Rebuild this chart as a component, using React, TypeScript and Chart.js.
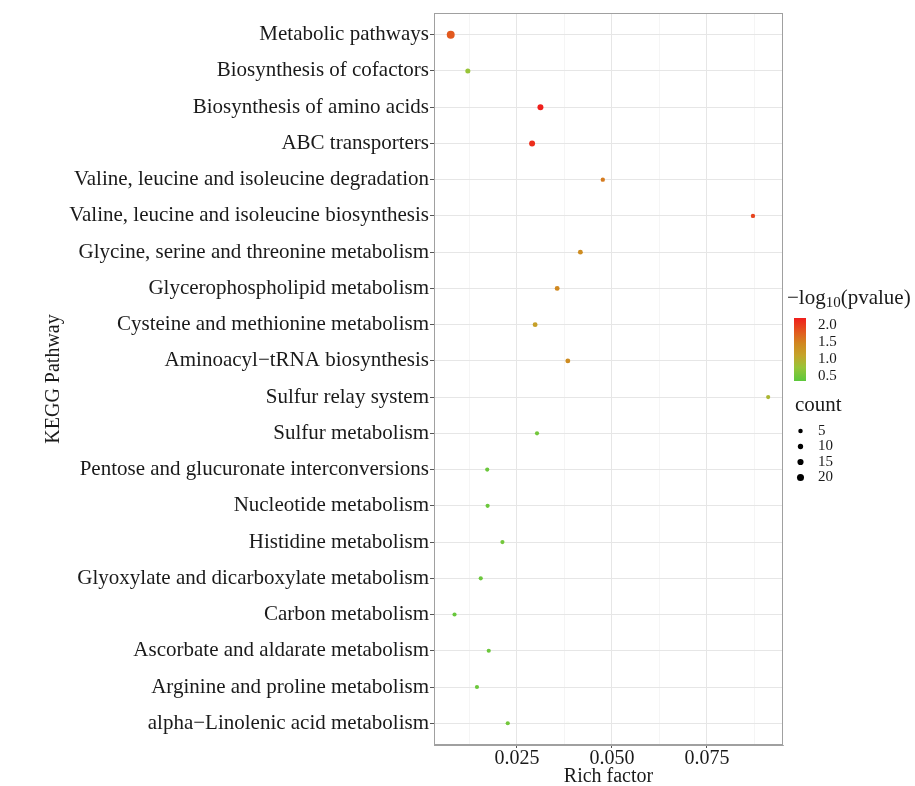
import { useEffect, useRef } from 'react';
import { Chart, registerables } from 'chart.js';

Chart.register(...registerables);

const pathways = [
  'Metabolic pathways',
  'Biosynthesis of cofactors',
  'Biosynthesis of amino acids',
  'ABC transporters',
  'Valine, leucine and isoleucine degradation',
  'Valine, leucine and isoleucine biosynthesis',
  'Glycine, serine and threonine metabolism',
  'Glycerophospholipid metabolism',
  'Cysteine and methionine metabolism',
  'Aminoacyl\u2212tRNA biosynthesis',
  'Sulfur relay system',
  'Sulfur metabolism',
  'Pentose and glucuronate interconversions',
  'Nucleotide metabolism',
  'Histidine metabolism',
  'Glyoxylate and dicarboxylate metabolism',
  'Carbon metabolism',
  'Ascorbate and aldarate metabolism',
  'Arginine and proline metabolism',
  'alpha\u2212Linolenic acid metabolism',
];

const richFactor = [
  0.0076, 0.0121, 0.0312, 0.029, 0.0476, 0.0871, 0.0417, 0.0356, 0.0298, 0.0384,
  0.0911, 0.0303, 0.0172, 0.0173, 0.0212, 0.0155, 0.0086, 0.0176, 0.0145, 0.0226,
];

const negLog10P = [
  1.8, 0.75, 2.2, 2.1, 1.55, 1.95, 1.4, 1.45, 1.15, 1.4,
  0.9, 0.5, 0.45, 0.45, 0.5, 0.45, 0.42, 0.45, 0.45, 0.5,
];

const geneCount = [
  23, 7, 12, 12, 3, 3, 6, 6, 6, 6,
  2, 2, 2, 2, 2, 2, 2, 2, 2, 2,
];

const xTicks = [0.025, 0.05, 0.075];
const colorBreaks = [2.0, 1.5, 1.0, 0.5];
const sizeBreaks = [5, 10, 15, 20];

// style constants
const FONT = "'Liberation Serif', 'Times New Roman', serif";
const colorDomain = [0.35, 2.21];
const stopVals = [0.35, 0.75, 1.1, 1.45, 1.75, 2.21];
const stopHex = ['#5cc83c', '#98c438', '#c4a42a', '#d08820', '#e0601e', '#f01e1c'];

function hexToRgb(h: string) {
  const n = parseInt(h.slice(1), 16);
  return [(n >> 16) & 255, (n >> 8) & 255, n & 255];
}
function colorFor(v: number) {
  const c = Math.max(stopVals[0], Math.min(stopVals[stopVals.length - 1], v));
  let i = 0;
  while (i < stopVals.length - 2 && c > stopVals[i + 1]) i++;
  const t = (c - stopVals[i]) / (stopVals[i + 1] - stopVals[i]);
  const a = hexToRgb(stopHex[i]);
  const b = hexToRgb(stopHex[i + 1]);
  const m = a.map((x, k) => Math.round(x + (b[k] - x) * t));
  return `rgb(${m[0]},${m[1]},${m[2]})`;
}
function radiusFor(count: number) {
  return 1.9 + 0.09 * count;
}

const decorPlugin = {
  id: 'decor',
  afterDraw(chart: any) {
    const { ctx, chartArea } = chart;
    const { left, right, top, bottom } = chartArea;
    ctx.save();
    // panel border
    ctx.strokeStyle = '#a0a0a0';
    ctx.lineWidth = 1;
    ctx.strokeRect(left + 0.5, top + 0.5, right - left - 1, bottom - top - 1);

    // color legend title
    const lx = right + 4;
    ctx.fillStyle = '#1a1a1a';
    ctx.textBaseline = 'alphabetic';
    ctx.textAlign = 'left';
    ctx.font = `21px ${FONT}`;
    let x = lx;
    const tBase = 304;
    ctx.fillText('\u2212log', x, tBase);
    x += ctx.measureText('\u2212log').width;
    ctx.font = `15px ${FONT}`;
    ctx.fillText('10', x, tBase + 3);
    x += ctx.measureText('10').width;
    ctx.font = `21px ${FONT}`;
    ctx.fillText('(pvalue)', x, tBase);

    // gradient bar
    const barX = lx + 7;
    const barW = 12;
    const barTop = 318;
    const barBot = 381;
    const yOf = (v: number) => barBot - ((v - colorDomain[0]) / (colorDomain[1] - colorDomain[0])) * (barBot - barTop);
    const grad = ctx.createLinearGradient(0, barBot, 0, barTop);
    stopVals.forEach((v, i) => {
      grad.addColorStop((v - colorDomain[0]) / (colorDomain[1] - colorDomain[0]), stopHex[i]);
    });
    ctx.fillStyle = grad;
    ctx.fillRect(barX, barTop, barW, barBot - barTop);
    ctx.font = `15px ${FONT}`;
    ctx.fillStyle = '#1a1a1a';
    ctx.textBaseline = 'middle';
    colorBreaks.forEach((v) => {
      ctx.fillText(v.toFixed(1), barX + barW + 12, yOf(v));
    });

    // size legend
    ctx.font = `21px ${FONT}`;
    ctx.fillText('count', lx + 8, 405);
    ctx.font = `15px ${FONT}`;
    const sizeYs = [431, 446.5, 462, 477.5];
    sizeBreaks.forEach((c, i) => {
      const y = sizeYs[i];
      ctx.fillStyle = '#000000';
      ctx.beginPath();
      ctx.arc(barX + 6.5, y, radiusFor(c) * 0.95, 0, Math.PI * 2);
      ctx.fill();
      ctx.fillStyle = '#1a1a1a';
      ctx.fillText(String(c), barX + barW + 12, y);
    });
    ctx.restore();
  },
};

export default function App() {
  const ref = useRef<HTMLCanvasElement>(null);
  useEffect(() => {
    if (!ref.current) return;
    const points = pathways.map((_, i) => ({ x: richFactor[i], y: i, r: radiusFor(geneCount[i]) }));
    const isMajor = (v: number) => xTicks.some((t) => Math.abs(t - v) < 1e-6);
    const chart = new Chart(ref.current, {
      type: 'bubble',
      data: {
        datasets: [
          {
            data: points,
            backgroundColor: negLog10P.map((v) => colorFor(v)),
            borderWidth: 0,
            hoverBorderWidth: 0,
          },
        ],
      },
      options: {
        animation: false,
        responsive: true,
        maintainAspectRatio: false,
        layout: { padding: { top: 13, right: 132, left: 0, bottom: 0 } },
        plugins: { legend: { display: false }, tooltip: { enabled: false } },
        scales: {
          x: {
            type: 'linear',
            min: 0.0032,
            max: 0.095,
            afterFit: (s: any) => {
              s.height = 41;
            },
            ticks: {
              stepSize: 0.0125,
              includeBounds: false,
              autoSkip: false,
              maxRotation: 0,
              padding: 1,
              color: '#1a1a1a',
              font: { family: FONT, size: 20, lineHeight: 1 },
              callback: (v: any) => {
                const m = xTicks.find((t) => Math.abs(t - v) < 1e-6);
                return m !== undefined ? m.toFixed(3) : '';
              },
            },
            grid: {
              color: (c: any) => (isMajor(c.tick?.value) ? '#e6e6e6' : '#efefef'),
              lineWidth: (c: any) => (isMajor(c.tick?.value) ? 1 : 0.6),
              tickLength: 3,
              tickColor: (c: any) => (isMajor(c.tick?.value) ? '#555555' : 'rgba(0,0,0,0)'),
            },
            border: { display: true, color: '#a0a0a0' },
            title: {
              display: true,
              text: 'Rich factor',
              color: '#1a1a1a',
              font: { family: FONT, size: 20, lineHeight: 1 },
              padding: { top: 0, bottom: -1 },
            },
          },
          y: {
            type: 'linear',
            min: -0.6,
            max: 19.6,
            reverse: true,
            afterFit: (s: any) => {
              s.width = 434;
            },
            ticks: {
              stepSize: 1,
              includeBounds: false,
              autoSkip: false,
              padding: 1,
              color: '#1a1a1a',
              font: { family: FONT, size: 21, lineHeight: 1 },
              callback: (v: any) => {
                const i = Math.round(v);
                return Math.abs(v - i) < 1e-6 && pathways[i] ? pathways[i] : '';
              },
            },
            grid: {
              color: '#e6e6e6',
              lineWidth: 1,
              tickLength: 4,
              tickColor: '#555555',
            },
            border: { display: true, color: '#a0a0a0' },
            title: {
              display: true,
              text: 'KEGG Pathway',
              color: '#1a1a1a',
              font: { family: FONT, size: 20, lineHeight: 1 },
              padding: { top: 44, bottom: 0 },
            },
          },
        },
      },
      plugins: [decorPlugin],
    });
    return () => chart.destroy();
  }, []);

  return (
    <div style={{ position: 'fixed', left: 0, top: 0, width: 915, height: 786, background: '#ffffff' }}>
      <canvas ref={ref} />
    </div>
  );
}
